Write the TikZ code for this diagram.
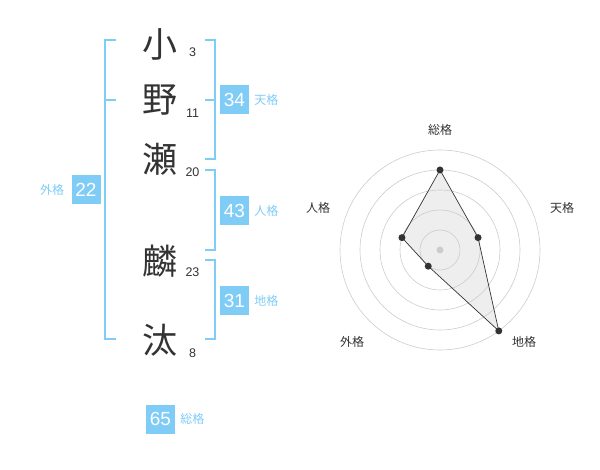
\documentclass[tikz,border=0pt]{standalone}
\usepackage{fontspec}
\setmainfont{Liberation Sans}
\newfontfamily\jpfont{Noto Sans CJK JP}
\usetikzlibrary{positioning, backgrounds}
\definecolor{skyb}{HTML}{7FCCF7}
\definecolor{ink}{HTML}{333333}
\definecolor{ringc}{HTML}{CCCCCC}
\definecolor{polyfill}{HTML}{EEEEEE}

\begin{document}
\begin{tikzpicture}[
  x=1pt, y=-1pt,
  node distance=5pt,
  kanji/.style={font=\jpfont\fontsize{35}{35}\selectfont, text=ink, inner sep=0pt},
  strk/.style ={font=\fontsize{12.5}{12.5}\selectfont, text=ink, inner sep=0pt},
  score/.style={fill=skyb, text=white, font=\fontsize{19}{19}\selectfont, minimum width=29pt, minimum height=29pt, inner sep=0pt},
  kaku/.style ={text=skyb, font=\jpfont\fontsize{12}{12}\selectfont, inner sep=0pt},
  axlab/.style={text=ink, font=\jpfont\fontsize{12}{12}\selectfont, inner sep=0pt},
  brk/.style  ={draw=skyb, line width=2pt},
  ring/.style ={draw=ringc, line width=0.6pt},
  dot/.style  ={circle, fill=ink, inner sep=0pt, minimum size=7pt},
]
\useasboundingbox (0,0) rectangle (600,470);

% name characters and stroke counts
\foreach \n/\k/\y/\s/\sy in {a/小/44/3/52, b/野/100/11/113, c/瀬/159/20/172, d/麟/261/23/272, e/汰/340/8/353} {
  \node[kanji] (k\n) at (160,\y) {\k};
  \node[strk]  (s\n) at (192.5,\sy) {\s};
}

% brackets
\draw[brk] (116,40) -- (105,40) -- (105,339) -- (116,339);
\draw[brk] (105,100) -- (116,100);
\draw[brk] (205,40) -- (215,40) -- (215,159) -- (205,159);
\draw[brk] (205,100) -- (215,100);
\draw[brk] (205,170) -- (215,170) -- (215,250) -- (205,250);
\draw[brk] (205,260) -- (215,260) -- (215,339) -- (205,339);

% scores
\node[score] (gai) at (86,190) {22};
\node[kaku, left=7pt of gai] (gail) {外格};
\node[score] (ten) at (234.5,100) {34};
\node[kaku, right=of ten] (tenl) {天格};
\node[score] (jin) at (234.5,210.5) {43};
\node[kaku, right=of jin] (jinl) {人格};
\node[score] (chi) at (234.5,300.5) {31};
\node[kaku, right=of chi] (chil) {地格};
\node[score] (sou) at (160.5,419) {65};
\node[kaku, right=of sou] (soul) {総格};

% radar chart
\begin{scope}[shift={(440,250)}, y=1pt]
  \foreach \n/\a/\r in {rsou/90/80, rten/18/40, rchi/-54/100, rgai/-126/20, rjin/162/40}
    \coordinate (\n) at (\a:\r);
  \fill[polyfill] (rsou) -- (rten) -- (rchi) -- (rgai) -- (rjin) -- cycle;
  \foreach \r in {20,40,60,80,100}
    \draw[ring] (0,0) circle[radius=\r];
  \node[circle, fill=ringc, inner sep=0pt, minimum size=7pt] (ctr) at (0,0) {};
  \draw[ink, line width=0.7pt] (rsou) -- (rten) -- (rchi) -- (rgai) -- (rjin) -- cycle;
  \foreach \n in {rsou, rten, rchi, rgai, rjin}
    \node[dot] at (\n) {};
\end{scope}
\node[axlab] (lsou) at (440,130) {総格};
\node[axlab] (lten) at (562,208) {天格};
\node[axlab] (ljin) at (318,208) {人格};
\node[axlab] (lgai) at (352,342) {外格};
\node[axlab] (lchi) at (524,342) {地格};
\end{tikzpicture}
\end{document}
